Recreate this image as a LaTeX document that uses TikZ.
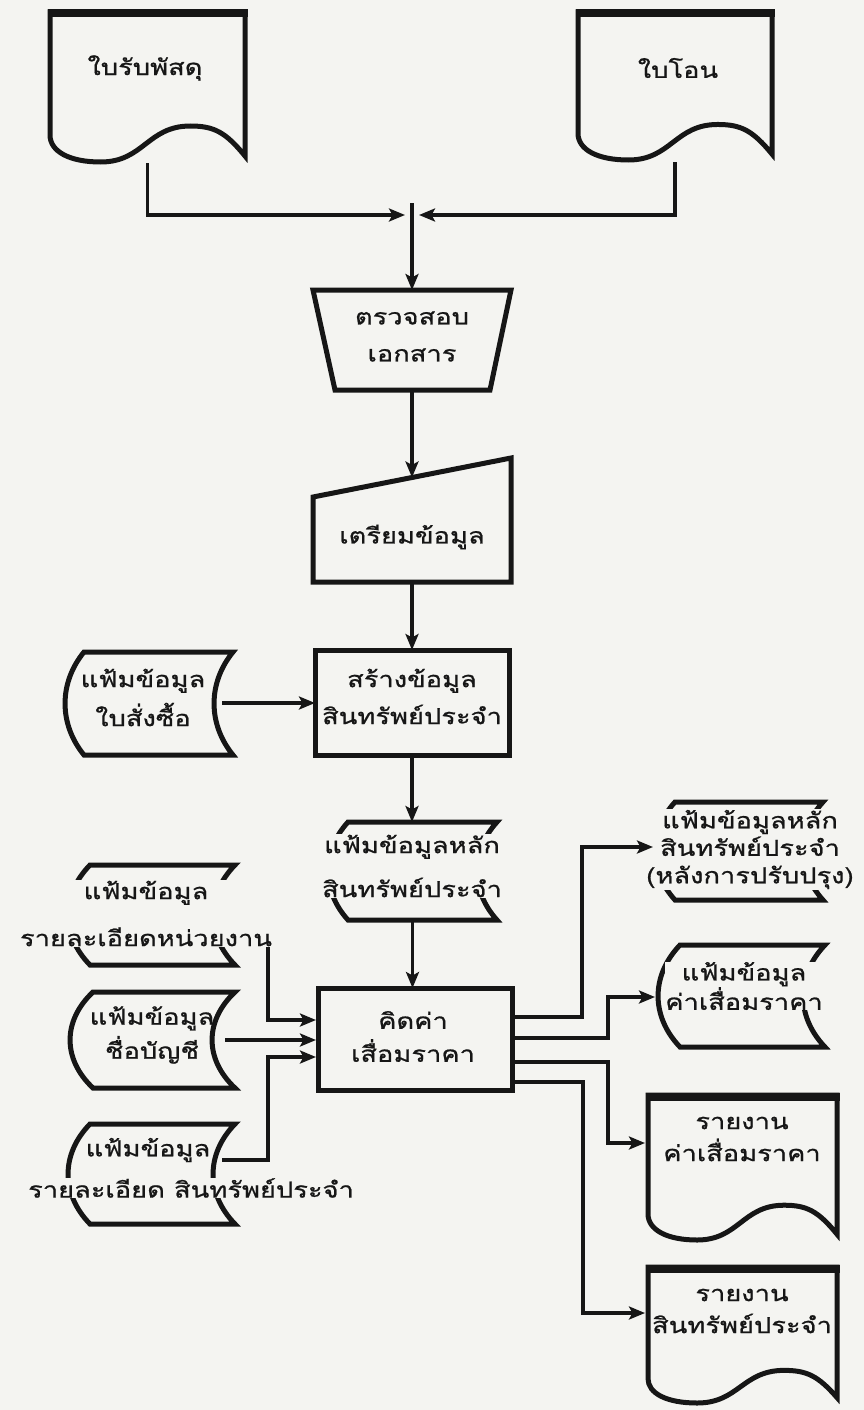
\documentclass[tikz,border=0pt]{standalone}
\usepackage{fontspec}
\newfontfamily\thaifont[Script=Thai,FakeStretch=1.24,FakeBold=0.9]{Loma}
\usetikzlibrary{arrows.meta,calc}

\definecolor{paper}{RGB}{244,244,241}
\definecolor{ink}{RGB}{22,22,22}

\tikzset{
  outline/.style={draw=ink, line width=5pt},
  wire/.style={draw=ink, line width=3.2pt},
  flow/.style={wire, -{Stealth[length=16pt,width=13pt,inset=3.5pt]}},
  frm/.style={draw=none, rectangle, inner sep=0pt, outer sep=0pt},
  txt/.style={font=\thaifont\fontsize{22}{36}\selectfont, align=center, inner sep=0.5pt, text=ink},
  lead/.style={font=\thaifont\fontsize{22}{#1}\selectfont},
  knock/.style={fill=paper},
}

% invisible named frame: name, x1, y1, x2, y2
\newcommand\shapeframe[5]{%
  \node[frm, minimum width={(#4)-(#2)}, minimum height={(#5)-(#3)}] (#1)
    at ({((#2)+(#4))/2},{((#3)+(#5))/2}) {};}

% document symbol: x1, y1, x2, y2 (y2 = lowest point of the wavy edge)
\newcommand\docoutline[4]{%
  \pgfmathsetmacro\dw{(#3)-(#1)}\pgfmathsetmacro\dh{(#4)-(#2)}%
  \draw[outline] (#1,{#2+0.82*\dh}) -- (#1,#2) -- (#3,#2) -- (#3,{#2+0.96*\dh})
    .. controls ({#1+0.90*\dw},{#2+0.80*\dh}) and ({#1+0.84*\dw},{#2+0.76*\dh}) .. ({#1+0.72*\dw},{#2+0.76*\dh})
    .. controls ({#1+0.50*\dw},{#2+0.76*\dh}) and ({#1+0.48*\dw},#4) .. ({#1+0.26*\dw},#4)
    .. controls ({#1+0.10*\dw},#4) and (#1,{#2+0.93*\dh}) .. (#1,{#2+0.82*\dh});
  \draw[ink, line width=8pt] ({#1-2.5},{#2+1.5}) -- ({#3+2.5},{#2+1.5});}

% stored-data symbol: leftmost x, y1, right corner x, y2, bulge
\newcommand\storeoutline[5]{%
  \draw[outline] ({#1+#5},#2) -- (#3,#2)
    .. controls ({#3-1.33*#5},{#2+0.3*(#4-#2)}) and ({#3-1.33*#5},{#4-0.3*(#4-#2)}) .. (#3,#4)
    -- ({#1+#5},#4)
    .. controls ({#1-0.33*#5},{#4-0.3*(#4-#2)}) and ({#1-0.33*#5},{#2+0.3*(#4-#2)}) .. cycle;}

\begin{document}
\begin{tikzpicture}[x=1pt,y=-1pt]
\useasboundingbox (0,0) rectangle (864,1410);
\fill[paper] (0,0) rectangle (864,1410);

% ---- frames of the symbols
\shapeframe{d1}{50}{12}{245}{162}
\shapeframe{d2}{578}{12}{772}{160}
\shapeframe{chk}{313}{290}{511}{390}
\shapeframe{prep}{313}{458}{511}{582}
\shapeframe{box1}{315}{650}{509}{755}
\shapeframe{pfile}{65}{652}{233}{755}
\shapeframe{mfile}{328}{822}{497}{920}
\shapeframe{box2}{318}{988}{512}{1090}
\shapeframe{afile}{68}{865}{235}{965}
\shapeframe{bfile}{70}{992}{235}{1088}
\shapeframe{cfile}{68}{1124}{235}{1224}
\shapeframe{dfile}{655}{802}{823}{900}
\shapeframe{efile}{658}{945}{825}{1047}
\shapeframe{rep1}{648}{1095}{837}{1240}
\shapeframe{rep2}{648}{1267}{837}{1403}

% ---- outlines
\docoutline{50}{12}{245}{162}
\docoutline{578}{12}{772}{160}
\draw[outline] (chk.north west) -- (chk.north east) -- (490,390) -- (335,390) -- cycle;
\draw[outline] (313,497) -- (prep.north east) -- (prep.south east) -- (prep.south west) -- cycle;
\draw[outline] (box1.north west) rectangle (box1.south east);
\draw[outline] (box2.north west) rectangle (box2.south east);
\storeoutline{65}{652}{233}{755}{19}
\storeoutline{328}{822}{497}{920}{20}
\storeoutline{68}{865}{235}{965}{22}
\storeoutline{70}{992}{235}{1088}{23}
\storeoutline{68}{1124}{235}{1224}{22}
\storeoutline{655}{802}{823}{900}{20}
\storeoutline{658}{945}{825}{1047}{22}
\docoutline{648}{1095}{837}{1240}
\docoutline{648}{1267}{837}{1403}

% ---- connector ends
\coordinate (jl) at (405,215);
\coordinate (jr) at (419,215);
\coordinate (jt) at (412,203);
\coordinate (prep-in) at (412,477.5);
\coordinate (pfile-out) at (222,703);
\coordinate (afile-out) at (223,912);
\coordinate (bfile-out) at (225,1040);
\coordinate (cfile-out) at (222,1160);
\coordinate (in1) at (316,1020);
\coordinate (in2) at (316,1040);
\coordinate (in3) at (316,1057);
\coordinate (out1) at (512,1017);
\coordinate (out2) at (512,1038);
\coordinate (out3) at (512,1062);
\coordinate (out4) at (512,1082);
\coordinate (dfile-in) at (653,847);
\coordinate (efile-in) at (655,997);
\coordinate (rep1-in) at (645,1143);
\coordinate (rep2-in) at (645,1313);

% ---- connectors (left and centre)
\draw[flow] ([yshift=-1pt]d1.south) |- (jl);
\draw[flow] ([yshift=-2pt]d2.south) |- (jr);
\draw[flow] (jt) -- (jt |- chk.north);
\draw[flow] (chk.south) -- (prep-in);
\draw[flow] (prep.south) -- (box1.north);
\draw[flow] (pfile-out) -- (pfile-out -| box1.west);
\draw[flow] (box1.south) -- (box1.south |- mfile.north);
\draw[flow] (mfile.south) -- (mfile.south |- box2.north);
\draw[flow] (afile-out) -- ++(45,0) |- (in1);
\draw[flow] (bfile-out) -- (in2);
\draw[flow] (cfile-out) -- ++(46,0) |- (in3);
\draw[flow] (out3) -- ++(96,0) |- (rep1-in);
\draw[flow] (out4) -- ++(71,0) |- (rep2-in);

% ---- texts
\node[txt] (d1-t) at (145,68) {ใบรับพัสดุ};
\node[txt] (d2-t) at (678,68) {ใบโอน};
\node[txt, lead=37] (chk-t) at (412,336.5) {ตรวจสอบ\\เอกสาร};
\node[txt] (prep-t) at (412,537) {เตรียมข้อมูล};
\node[txt, lead=37] (box1-t) at (412,696.5) {สร้างข้อมูล\\สินทรัพย์ประจำ};
\node[txt, lead=39] (pfile-t) at (143,697.5) {แฟ้มข้อมูล\\ใบสั่งซื้อ};
\node[txt, lead=44, knock] (mfile-t) at (412,866) {แฟ้มข้อมูลหลัก\\สินทรัพย์ประจำ};
\node[txt, lead=47, knock] (afile-t) at (146,913.5) {แฟ้มข้อมูล\\รายละเอียดหน่วยงาน};
\node[txt, lead=34] (bfile-t) at (152,1035) {แฟ้มข้อมูล\\ชื่อบัญชี};
\node[txt, knock] (cfile-t1) at (148,1150) {แฟ้มข้อมูล};
\node[txt, knock] (cfile-t2) at (191,1188) {รายละเอียด สินทรัพย์ประจำ};
\node[txt, lead=33] (box2-t) at (413,1036.5) {คิดค่า\\เสื่อมราคา};
\node[txt, lead=27.5, knock] (dfile-t) at (750,849.5) {แฟ้มข้อมูลหลัก\\สินทรัพย์ประจำ\\(หลังการปรับปรุง)};
\node[txt, lead=28, knock] (efile-t) at (744,986) {แฟ้มข้อมูล\\ค่าเสื่อมราคา};
\node[txt, lead=32] (rep1-t) at (742,1139) {รายงาน\\ค่าเสื่อมราคา};
\node[txt, lead=32] (rep2-t) at (742,1311) {รายงาน\\สินทรัพย์ประจำ};

% ---- connectors into the output files, drawn over their labels
\draw[flow] (out1) -- ++(70,0) |- (dfile-in);
\draw[flow] (out2) -- ++(96,0) |- (efile-in);
\end{tikzpicture}
\end{document}
